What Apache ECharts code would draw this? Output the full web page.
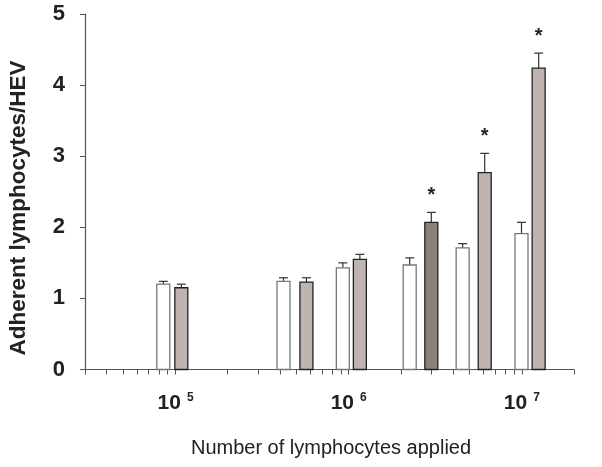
<!DOCTYPE html>
<html><head><meta charset="utf-8">
<script src="https://cdn.jsdelivr.net/npm/echarts@6/dist/echarts.min.js"></script>
<style>html,body{margin:0;padding:0;background:#fff}#c{width:602px;height:467px}</style>
</head><body><div id="c"></div>
<script>
// Data
var xWhite = [8.5e4, 4.2e5, 9.25e5, 2.25e6, 4.55e6, 9.95e6];
var yWhite = [1.20, 1.24, 1.43, 1.47, 1.71, 1.91];
var eWhite = [0.04, 0.05, 0.07, 0.10, 0.06, 0.16];
var xGrey = [1.08e5, 5.7e5, 1.16e6, 3.0e6, 6.1e6, 1.25e7];
var yGrey = [1.15, 1.23, 1.55, 2.07, 2.77, 4.24];
var eGrey = [0.05, 0.06, 0.07, 0.14, 0.27, 0.21];
var sigGrey = [0, 0, 0, 1, 1, 1];
var xTickValues = [3e4,4e4,5e4,6e4,7e4,8e4,9e4,1e5,2e5,3e5,4e5,5e5,6e5,7e5,8e5,9e5,1e6,2e6,3e6,4e6,5e6,6e6,7e6,8e6,9e6,1e7,2e7];
var xLabelValues = [1e5, 1e6, 1e7];
var yTicks = [0, 1, 2, 3, 4, 5];

var darkIndex = 3;
var FONT = '"Liberation Sans", Arial, sans-serif';

function makeData(xs, ys, es, sig) {
  return xs.map(function (x, i) { return [x, ys[i], es[i], sig ? sig[i] : 0, i]; });
}

function renderer(fill, stroke, darkFill) {
  return function (params, api) {
    var x = api.value(0), y = api.value(1), e = api.value(2), s = api.value(3), idx = api.value(4);
    var p0 = api.coord([x, 0]), p1 = api.coord([x, y]), p2 = api.coord([x, y + e]);
    var w = 13, cw = 9;
    var f = (darkFill && idx === darkIndex) ? darkFill : fill;
    var children = [
      { type: 'line', shape: { x1: p1[0], y1: p1[1], x2: p2[0], y2: p2[1] }, style: { stroke: '#333', lineWidth: 1.2 } },
      { type: 'line', shape: { x1: p2[0] - cw / 2, y1: p2[1], x2: p2[0] + cw / 2, y2: p2[1] }, style: { stroke: '#333', lineWidth: 1.2 } },
      { type: 'rect', shape: { x: p1[0] - w / 2, y: p1[1], width: w, height: p0[1] - p1[1] }, style: { fill: f, stroke: stroke, lineWidth: 1.3 } }
    ];
    if (s) {
      children.push({ type: 'text', x: p2[0], y: p2[1] - 17, style: { text: '*', font: 'bold 20px ' + FONT, fill: '#222', align: 'center', verticalAlign: 'middle' } });
    }
    return { type: 'group', children: children };
  };
}

var chart = echarts.init(document.getElementById('c'), null, { renderer: 'canvas' });
chart.setOption({
  animation: false,
  backgroundColor: '#fff',
  grid: { left: 85, right: 28, top: 14, bottom: 97.5, containLabel: false },
  xAxis: {
    type: 'log', logBase: 10, min: 3e4, max: 2e7,
    axisLine: { lineStyle: { color: '#555', width: 1.2 } },
    axisTick: { show: true, customValues: xTickValues, length: 5, inside: false, lineStyle: { color: '#555' } },
    minorTick: { show: false },
    splitLine: { show: false },
    axisLabel: {
      customValues: xLabelValues, margin: 22,
      formatter: function (v) { return '{b|10}{s|' + Math.round(Math.log10(v)) + '}'; },
      rich: {
        b: { fontFamily: FONT, fontWeight: 'bold', fontSize: 21, color: '#222' },
        s: { fontFamily: FONT, fontWeight: 'bold', fontSize: 12, color: '#222', padding: [0, 0, 11, 6] }
      }
    }
  },
  yAxis: {
    type: 'value', min: 0, max: 5, interval: 1,
    axisLine: { show: true, lineStyle: { color: '#555', width: 1.2 } },
    axisTick: { show: true, length: 5, lineStyle: { color: '#555' } },
    splitLine: { show: false },
    axisLabel: { margin: 20, fontFamily: FONT, fontWeight: 'bold', fontSize: 22, color: '#222',
      formatter: function (v) { return yTicks.indexOf(v) >= 0 ? String(v) : ''; } }
  },
  graphic: [
    { type: 'text', x: 19, y: 208, rotation: Math.PI / 2,
      style: { text: 'Adherent lymphocytes/HEV', font: 'bold 22.5px ' + FONT, fill: '#222', align: 'center', verticalAlign: 'middle' } },
    { type: 'text', x: 331, y: 448,
      style: { text: 'Number of lymphocytes applied', font: '20px ' + FONT, fill: '#222', align: 'center', verticalAlign: 'middle' } }
  ],
  series: [
    { type: 'custom', name: 'control', renderItem: renderer('#ffffff', '#777'), data: makeData(xWhite, yWhite, eWhite), encode: { x: 0, y: 1 }, clip: false },
    { type: 'custom', name: 'treated', renderItem: renderer('#bfb4af', '#222', '#8e7f77'), data: makeData(xGrey, yGrey, eGrey, sigGrey), encode: { x: 0, y: 1 }, clip: false }
  ]
});
</script>
</body></html>
